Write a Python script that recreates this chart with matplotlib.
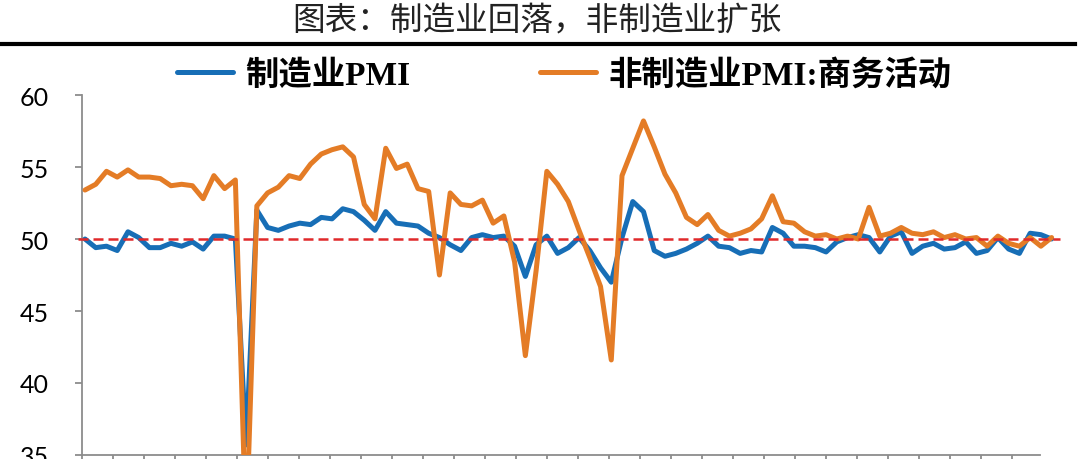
import numpy as np
import pandas as pd
import matplotlib
matplotlib.use('Agg')
import matplotlib.pyplot as plt
from matplotlib.lines import Line2D
from matplotlib.font_manager import FontProperties

# monthly data, Nov 2018 - May 2026
months = pd.period_range('2018-11', periods=91, freq='M')

mfg_pmi = [
    50.0, 49.4,
    49.5, 49.2, 50.5, 50.1, 49.4, 49.4, 49.7, 49.5, 49.8, 49.3, 50.2, 50.2,
    50.0, 35.7, 52.0, 50.8, 50.6, 50.9, 51.1, 51.0, 51.5, 51.4, 52.1, 51.9,
    51.3, 50.6, 51.9, 51.1, 51.0, 50.9, 50.4, 50.1, 49.6, 49.2, 50.1, 50.3,
    50.1, 50.2, 49.5, 47.4, 49.6, 50.2, 49.0, 49.4, 50.1, 49.2, 48.0, 47.0,
    50.1, 52.6, 51.9, 49.2, 48.8, 49.0, 49.3, 49.7, 50.2, 49.5, 49.4, 49.0,
    49.2, 49.1, 50.8, 50.4, 49.5, 49.5, 49.4, 49.1, 49.8, 50.1, 50.3, 50.1,
    49.1, 50.2, 50.5, 49.0, 49.5, 49.7, 49.3, 49.4, 49.8, 49.0, 49.2, 50.1,
    49.3, 49.0, 50.4, 50.3, 50.0,
]

nonmfg_pmi = [
    53.4, 53.8,
    54.7, 54.3, 54.8, 54.3, 54.3, 54.2, 53.7, 53.8, 53.7, 52.8, 54.4, 53.5,
    54.1, 29.6, 52.3, 53.2, 53.6, 54.4, 54.2, 55.2, 55.9, 56.2, 56.4, 55.7,
    52.4, 51.4, 56.3, 54.9, 55.2, 53.5, 53.3, 47.5, 53.2, 52.4, 52.3, 52.7,
    51.1, 51.6, 48.4, 41.9, 47.8, 54.7, 53.8, 52.6, 50.6, 48.7, 46.7, 41.6,
    54.4, 56.3, 58.2, 56.4, 54.5, 53.2, 51.5, 51.0, 51.7, 50.6, 50.2, 50.4,
    50.7, 51.4, 53.0, 51.2, 51.1, 50.5, 50.2, 50.3, 50.0, 50.2, 50.0, 52.2,
    50.2, 50.4, 50.8, 50.4, 50.3, 50.5, 50.1, 50.3, 50.0, 50.1, 49.5, 50.2,
    49.7, 49.5, 50.1, 49.5, 50.1,
]

yticks = [35, 40, 45, 50, 55, 60]
title = '图表：制造业回落，非制造业扩张'
labels = ['制造业PMI', '非制造业PMI:商务活动']

blue = '#176EB6'
orange = '#E47C26'
red = '#E0292B'
spine_col = '#8C8C8C'

W, H = 1080, 460
fig = plt.figure(figsize=(W / 100, H / 100), dpi=100)

# axes box in pixels: left spine x=82, right 1060, top y=96, bottom y=456
ax = fig.add_axes([82 / W, (H - 456) / H, (1060 - 82) / W, 360 / H])

x = np.arange(len(months))
l1, = ax.plot(x, mfg_pmi, color=blue, lw=3.6, solid_joinstyle='round',
              solid_capstyle='round', zorder=3)
l2, = ax.plot(x, nonmfg_pmi, color=orange, lw=3.6, solid_joinstyle='round',
              solid_capstyle='round', zorder=4)
ax.axhline(50, xmin=-0.004, color=red, lw=1.8, dashes=(4, 2), zorder=5,
           clip_on=False)

ax.set_xlim(-0.28, 90.78)
ax.set_ylim(35, 60)

for s in ['top', 'right']:
    ax.spines[s].set_visible(False)
for s in ['left', 'bottom']:
    ax.spines[s].set_color(spine_col)
    ax.spines[s].set_linewidth(1.3)
ax.spines['bottom'].set_bounds(-0.28, 88.9)

ax.set_yticks(yticks)
ax.set_yticklabels([str(v) for v in yticks], fontsize=18, family='Lato')
ax.tick_params(axis='y', direction='out', length=5, width=1.3,
               color=spine_col, pad=19, labelcolor='black')
ax.set_xticks(np.arange(-0.28, 89.0, 2.886))
ax.set_xticklabels([])
ax.tick_params(axis='x', direction='out', length=6, width=1.3, color=spine_col)

# title and rule
fig.text(537 / W, 1 - 22 / H, title, ha='center', va='center',
         fontsize=23.5, family=['Noto Sans CJK SC'], weight='light',
         color='#222222')
fig.add_artist(Line2D([2 / W, 1075 / W], [1 - 45 / H, 1 - 45 / H],
                      color='black', lw=3.0, transform=fig.transFigure))

prop = FontProperties(family=['Liberation Serif', 'Noto Sans CJK SC'],
                      weight='bold', size=24)
leg = fig.legend([l1, l2], labels, loc='center left',
                 bbox_to_anchor=(177 / W, 1 - 76 / H), ncol=2, frameon=False,
                 prop=prop, handlelength=1.68, handletextpad=0.36,
                 columnspacing=3.9, borderpad=0, borderaxespad=0)
for line in leg.get_lines():
    line.set_linewidth(3.6)

fig.savefig('out.png', dpi=100)
